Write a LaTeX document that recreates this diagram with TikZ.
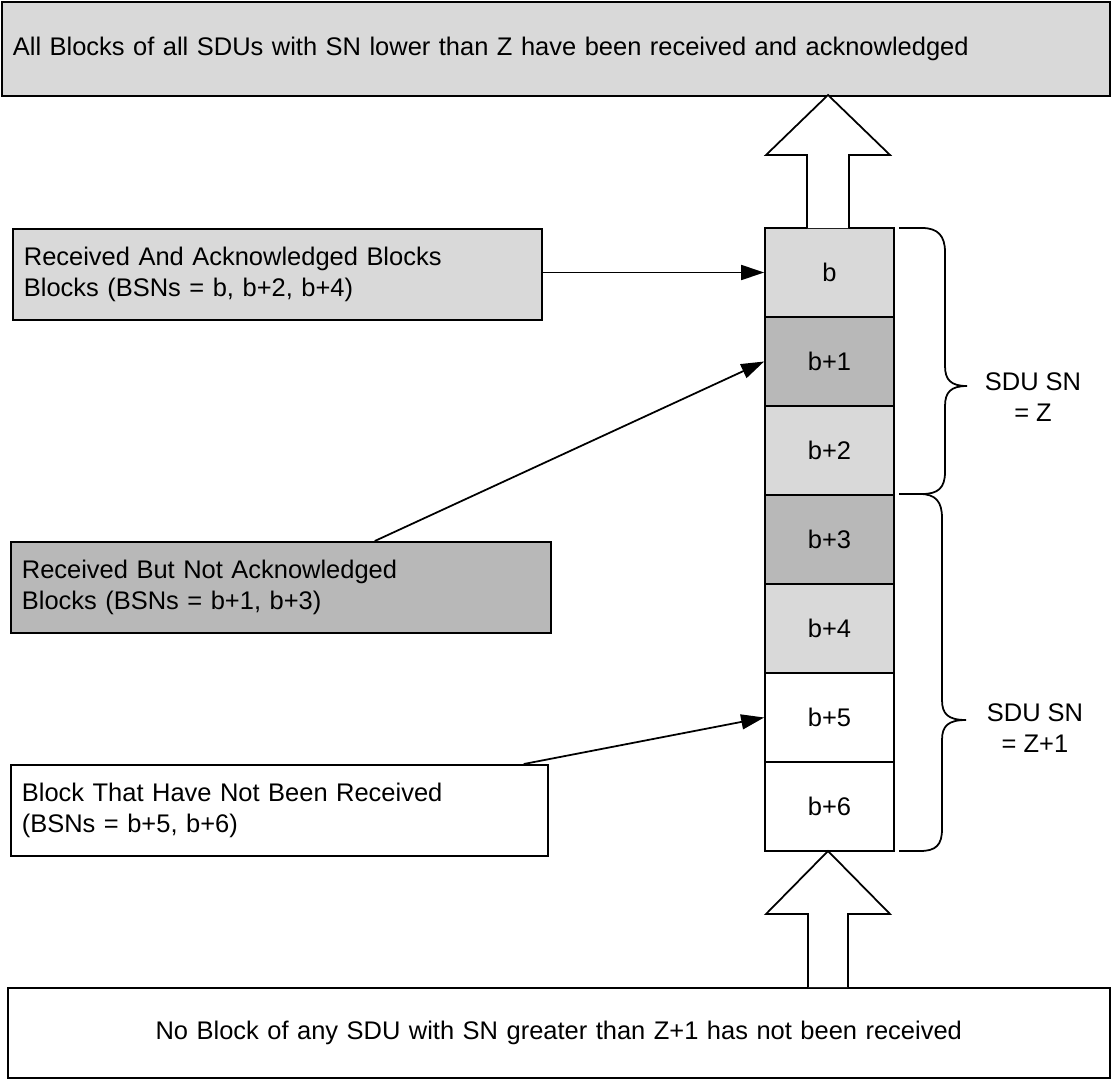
\documentclass[tikz,border=0pt]{standalone}
\usepackage{fontspec}
\setmainfont{Liberation Sans}
\usepackage{xcolor}
\usetikzlibrary{arrows.meta, positioning}
\definecolor{ackgray}{HTML}{D9D9D9}
\definecolor{rcvgray}{HTML}{B8B8B8}

\begin{document}
\begin{tikzpicture}[
    x=0.02cm, y=-0.02cm,
    >={Triangle[length=0.46cm, width=0.3cm]},
    every node/.style={font=\fontsize{14.5}{17.6}\selectfont},
    infobox/.style={draw, line width=1pt, fill=#1, align=left, anchor=north west, minimum height=1.82cm, inner xsep=0.22cm},
    bsnblock/.style={draw, line width=1pt, fill=#1, minimum width=2.58cm, minimum height=1.78cm},
    fatarrow/.style={draw, line width=1pt, fill=white, line join=miter},
]
    \useasboundingbox (0,0) rectangle (1111,1078);

    % Top and bottom banners
    \node[infobox=ackgray, text width=21.72cm, minimum height=1.88cm] (done) at (1,1)
        {All Blocks of all SDUs with SN lower than Z have been received and acknowledged};
    \node[infobox=white, text width=21.6cm, align=center, minimum height=1.8cm] (pending) at (7,987)
        {No Block of any SDU with SN greater than Z+1 has not been received};

    % Block column
    \foreach \i/\lab/\shade in {0/b/ackgray, 1/b+1/rcvgray, 2/b+2/ackgray, 3/b+3/rcvgray, 4/b+4/ackgray, 5/b+5/white, 6/b+6/white}
        \node[bsnblock=\shade] (b\i) at (829.5, 272.5+89*\i) {\lab};

    % Big arrows
    \draw[fatarrow] (807,228) -- (807,155) -- (766,155) -- (828,95) -- (890,155) -- (849,155) -- (849,228);
    \draw[fatarrow] (808,987) -- (808,914) -- (766,914) -- (828,851) -- (890,914) -- (848,914) -- (848,987);

    % Legend boxes
    \node[infobox=ackgray, text width=10.14cm] (ack) at (12,228)
        {Received And Acknowledged Blocks\\Blocks (BSNs = b, b+2, b+4)};
    \node[infobox=rcvgray, text width=10.36cm] (rcv) at (10,541)
        {Received But Not Acknowledged\\Blocks (BSNs = b+1, b+3)};
    \node[infobox=white, text width=10.3cm] (miss) at (10,764)
        {Block That Have Not Been Received\\(BSNs = b+5, b+6)};

    \draw[->, line width=1pt] (ack.east |- b0) -- (b0.west);
    \draw[->, line width=1pt] ([xshift=1.88cm]rcv.north) -- (b1.west);
    \draw[->, line width=1pt] ([xshift=4.89cm]miss.north) -- (b5.west);

    % Braces
    \draw[line width=1pt] (899,228) -- (922,228) .. controls (938,228) and (945,236) .. (945,252) -- (945,366)
        .. controls (945,380) and (951,386) .. (967,386) .. controls (951,386) and (945,392) .. (945,406)
        -- (945,472) .. controls (945,488) and (938,494) .. (922,494) -- (899,494);
    \draw[line width=1pt] (899,494) -- (920,494) .. controls (936,494) and (942,502) .. (942,518) -- (942,700)
        .. controls (942,714) and (948,720) .. (966,720) .. controls (948,720) and (942,726) .. (942,740)
        -- (942,829) .. controls (942,845) and (936,851) .. (920,851) -- (899,851);

    \node[align=center] (snz) at (1033,397.5) {SDU SN\\= Z};
    \node[align=center] (snz1) at (1035,728) {SDU SN\\= Z+1};
\end{tikzpicture}
\end{document}
